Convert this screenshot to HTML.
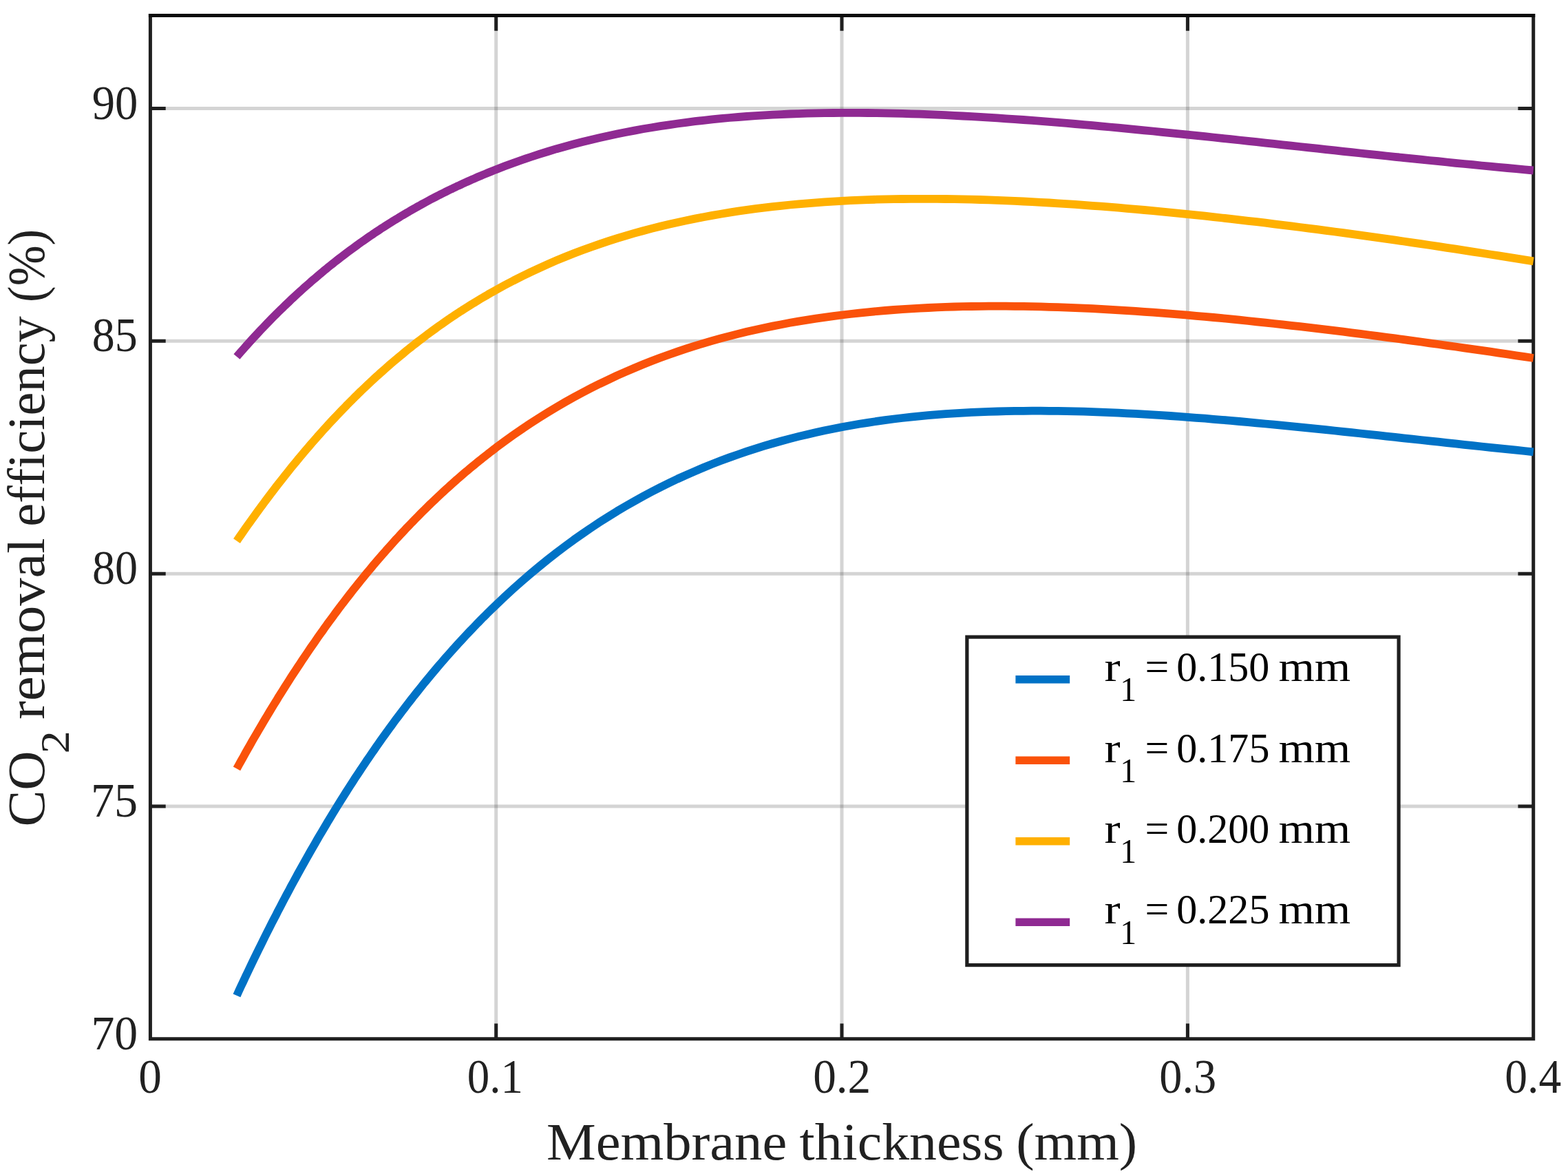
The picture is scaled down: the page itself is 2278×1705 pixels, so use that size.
<!DOCTYPE html>
<html><head><meta charset="utf-8"><title>CO2 removal efficiency vs membrane thickness</title><style>html,body{margin:0;padding:0;background:#fff;overflow:hidden}svg{display:block}</style></head><body>
<svg width="2278" height="1705" viewBox="0 0 2278 1705">
<rect width="2278" height="1705" fill="#fff"/>
<path d="M720.7 22.4V1508.8" stroke="#262626" stroke-opacity="0.2" stroke-width="5" fill="none"/>
<path d="M1223.0 22.4V1508.8" stroke="#262626" stroke-opacity="0.2" stroke-width="5" fill="none"/>
<path d="M1725.4 22.4V1508.8" stroke="#262626" stroke-opacity="0.2" stroke-width="5" fill="none"/>
<path d="M218.4 1171.0H2227.7" stroke="#262626" stroke-opacity="0.2" stroke-width="5" fill="none"/>
<path d="M218.4 833.2H2227.7" stroke="#262626" stroke-opacity="0.2" stroke-width="5" fill="none"/>
<path d="M218.4 495.3H2227.7" stroke="#262626" stroke-opacity="0.2" stroke-width="5" fill="none"/>
<path d="M218.4 157.5H2227.7" stroke="#262626" stroke-opacity="0.2" stroke-width="5" fill="none"/>
<path d="M720.7 1508.8v-22.3M720.7 22.4v22.3M1223.0 1508.8v-22.3M1223.0 22.4v22.3M1725.4 1508.8v-22.3M1725.4 22.4v22.3M218.4 1171.0h22.3M2227.7 1171.0h-22.3M218.4 833.2h22.3M2227.7 833.2h-22.3M218.4 495.3h22.3M2227.7 495.3h-22.3M218.4 157.5h22.3M2227.7 157.5h-22.3" stroke="#1f1f1f" stroke-width="5" fill="none"/>
<path d="M218.4 22.4V1508.8H2227.7V22.4" stroke="#1f1f1f" stroke-width="5" fill="none" stroke-linecap="square"/>
<path d="M215.9 22.4H2230.2" stroke="#0c0c0c" stroke-width="5" fill="none"/>
<path d="M344.0 1445.8 347.1 1438.9 350.3 1432.1 353.5 1425.4 356.6 1418.6 359.8 1412.0 363.0 1405.3 366.1 1398.7 369.3 1392.2 372.5 1385.7 375.6 1379.2 378.8 1372.8 382.0 1366.4 385.1 1360.0 388.3 1353.7 391.5 1347.4 394.6 1341.2 397.8 1335.0 401.0 1328.9 404.1 1322.7 407.3 1316.7 410.5 1310.6 413.6 1304.6 416.8 1298.6 420.0 1292.7 423.1 1286.8 426.3 1281.0 429.5 1275.2 432.6 1269.4 435.8 1263.6 439.0 1257.9 442.1 1252.3 445.3 1246.6 448.5 1241.0 451.6 1235.5 454.8 1230.0 458.0 1224.5 461.1 1219.0 464.3 1213.6 467.5 1208.2 470.6 1202.9 473.8 1197.6 476.9 1192.3 480.1 1187.1 483.3 1181.8 486.4 1176.7 489.6 1171.5 492.8 1166.4 495.9 1161.4 499.1 1156.3 502.3 1151.3 505.4 1146.4 508.6 1141.4 511.8 1136.5 514.9 1131.6 518.1 1126.8 521.3 1122.0 524.4 1117.2 527.6 1112.5 530.8 1107.8 533.9 1103.1 537.1 1098.5 540.3 1093.8 543.4 1089.3 546.6 1084.7 549.8 1080.2 552.9 1075.7 556.1 1071.2 559.3 1066.8 562.4 1062.4 565.6 1058.1 568.8 1053.7 571.9 1049.4 575.1 1045.1 578.3 1040.9 581.4 1036.7 584.6 1032.5 587.8 1028.3 590.9 1024.2 594.1 1020.1 597.3 1016.0 600.4 1012.0 603.6 1008.0 606.8 1004.0 609.9 1000.1 613.1 996.1 616.2 992.2 619.4 988.4 622.6 984.5 625.7 980.7 628.9 976.9 632.1 973.1 635.2 969.4 638.4 965.7 641.6 962.0 644.7 958.4 647.9 954.7 651.1 951.1 654.2 947.6 657.4 944.0 660.6 940.5 663.7 937.0 666.9 933.5 670.1 930.1 673.2 926.7 676.4 923.3 679.6 919.9 682.7 916.6 685.9 913.3 689.1 910.0 692.2 906.7 695.4 903.5 698.6 900.2 701.7 897.0 704.9 893.9 708.1 890.7 711.2 887.6 714.4 884.5 717.6 881.4 720.7 878.4 733.3 866.5 745.8 855.0 758.4 843.9 771.0 833.0 783.5 822.6 796.1 812.4 808.6 802.6 821.2 793.1 833.7 783.9 846.3 775.1 858.9 766.5 871.4 758.2 884.0 750.2 896.5 742.4 909.1 735.0 921.7 727.8 934.2 720.8 946.8 714.1 959.3 707.7 971.9 701.5 984.4 695.5 997.0 689.8 1009.6 684.3 1022.1 679.0 1034.7 673.9 1047.2 669.1 1059.8 664.4 1072.4 660.0 1084.9 655.7 1097.5 651.6 1110.0 647.7 1122.6 644.0 1135.1 640.5 1147.7 637.1 1160.3 633.9 1172.8 630.9 1185.4 628.0 1197.9 625.2 1210.5 622.7 1223.0 620.2 1235.6 618.0 1248.2 615.8 1260.7 613.8 1273.3 611.9 1285.8 610.2 1298.4 608.5 1311.0 607.0 1323.5 605.6 1336.1 604.3 1348.6 603.2 1361.2 602.1 1373.7 601.2 1386.3 600.3 1398.9 599.6 1411.4 598.9 1424.0 598.3 1436.5 597.8 1449.1 597.5 1461.7 597.1 1474.2 596.9 1486.8 596.8 1499.3 596.7 1511.9 596.7 1524.4 596.8 1537.0 596.9 1549.6 597.1 1562.1 597.4 1574.7 597.7 1587.2 598.1 1599.8 598.6 1612.4 599.1 1624.9 599.7 1637.5 600.3 1650.0 600.9 1662.6 601.6 1675.1 602.4 1687.7 603.2 1700.3 604.0 1712.8 604.9 1725.4 605.8 1737.9 606.8 1750.5 607.7 1763.0 608.8 1775.6 609.8 1788.2 610.9 1800.7 612.0 1813.3 613.1 1825.8 614.3 1838.4 615.5 1851.0 616.7 1863.5 617.9 1876.1 619.1 1888.6 620.4 1901.2 621.6 1913.7 622.9 1926.3 624.2 1938.9 625.5 1951.4 626.8 1964.0 628.2 1976.5 629.5 1989.1 630.9 2001.7 632.2 2014.2 633.6 2026.8 634.9 2039.3 636.3 2051.9 637.6 2064.4 639.0 2077.0 640.4 2089.6 641.7 2102.1 643.1 2114.7 644.4 2127.2 645.8 2139.8 647.1 2152.4 648.5 2164.9 649.8 2177.5 651.1 2190.0 652.4 2202.6 653.7 2215.1 655.0 2227.7 656.3" stroke="#0072c6" stroke-width="11.8" fill="none" stroke-linejoin="round"/>
<path d="M344.0 1116.4 347.1 1110.7 350.3 1105.0 353.5 1099.3 356.6 1093.6 359.8 1088.0 363.0 1082.5 366.1 1076.9 369.3 1071.4 372.5 1066.0 375.6 1060.6 378.8 1055.2 382.0 1049.8 385.1 1044.5 388.3 1039.2 391.5 1033.9 394.6 1028.7 397.8 1023.5 401.0 1018.4 404.1 1013.2 407.3 1008.1 410.5 1003.1 413.6 998.1 416.8 993.1 420.0 988.1 423.1 983.2 426.3 978.3 429.5 973.5 432.6 968.7 435.8 963.9 439.0 959.1 442.1 954.4 445.3 949.7 448.5 945.0 451.6 940.4 454.8 935.8 458.0 931.3 461.1 926.7 464.3 922.2 467.5 917.8 470.6 913.3 473.8 908.9 476.9 904.5 480.1 900.2 483.3 895.9 486.4 891.6 489.6 887.4 492.8 883.1 495.9 878.9 499.1 874.8 502.3 870.7 505.4 866.6 508.6 862.5 511.8 858.4 514.9 854.4 518.1 850.5 521.3 846.5 524.4 842.6 527.6 838.7 530.8 834.8 533.9 831.0 537.1 827.2 540.3 823.4 543.4 819.6 546.6 815.9 549.8 812.2 552.9 808.6 556.1 804.9 559.3 801.3 562.4 797.7 565.6 794.2 568.8 790.6 571.9 787.1 575.1 783.6 578.3 780.2 581.4 776.8 584.6 773.4 587.8 770.0 590.9 766.6 594.1 763.3 597.3 760.0 600.4 756.8 603.6 753.5 606.8 750.3 609.9 747.1 613.1 743.9 616.2 740.8 619.4 737.7 622.6 734.6 625.7 731.5 628.9 728.5 632.1 725.4 635.2 722.5 638.4 719.5 641.6 716.5 644.7 713.6 647.9 710.7 651.1 707.8 654.2 705.0 657.4 702.1 660.6 699.3 663.7 696.5 666.9 693.8 670.1 691.0 673.2 688.3 676.4 685.6 679.6 682.9 682.7 680.3 685.9 677.7 689.1 675.1 692.2 672.5 695.4 669.9 698.6 667.4 701.7 664.8 704.9 662.3 708.1 659.9 711.2 657.4 714.4 655.0 717.6 652.5 720.7 650.1 733.3 640.8 745.8 631.8 758.4 623.1 771.0 614.7 783.5 606.6 796.1 598.8 808.6 591.2 821.2 583.9 833.7 576.9 846.3 570.1 858.9 563.6 871.4 557.3 884.0 551.3 896.5 545.4 909.1 539.8 921.7 534.5 934.2 529.3 946.8 524.3 959.3 519.6 971.9 515.0 984.4 510.6 997.0 506.4 1009.6 502.4 1022.1 498.6 1034.7 494.9 1047.2 491.4 1059.8 488.1 1072.4 484.9 1084.9 481.8 1097.5 479.0 1110.0 476.2 1122.6 473.6 1135.1 471.2 1147.7 468.8 1160.3 466.6 1172.8 464.6 1185.4 462.6 1197.9 460.8 1210.5 459.1 1223.0 457.5 1235.6 456.0 1248.2 454.6 1260.7 453.3 1273.3 452.1 1285.8 451.0 1298.4 450.0 1311.0 449.1 1323.5 448.3 1336.1 447.6 1348.6 447.0 1361.2 446.4 1373.7 445.9 1386.3 445.5 1398.9 445.2 1411.4 445.0 1424.0 444.8 1436.5 444.7 1449.1 444.7 1461.7 444.7 1474.2 444.8 1486.8 444.9 1499.3 445.2 1511.9 445.4 1524.4 445.8 1537.0 446.2 1549.6 446.6 1562.1 447.1 1574.7 447.6 1587.2 448.2 1599.8 448.9 1612.4 449.6 1624.9 450.3 1637.5 451.1 1650.0 451.9 1662.6 452.8 1675.1 453.7 1687.7 454.6 1700.3 455.6 1712.8 456.6 1725.4 457.7 1737.9 458.8 1750.5 459.9 1763.0 461.0 1775.6 462.2 1788.2 463.4 1800.7 464.7 1813.3 466.0 1825.8 467.3 1838.4 468.6 1851.0 470.0 1863.5 471.4 1876.1 472.8 1888.6 474.2 1901.2 475.7 1913.7 477.2 1926.3 478.7 1938.9 480.2 1951.4 481.7 1964.0 483.3 1976.5 484.9 1989.1 486.5 2001.7 488.1 2014.2 489.8 2026.8 491.4 2039.3 493.1 2051.9 494.8 2064.4 496.5 2077.0 498.3 2089.6 500.0 2102.1 501.8 2114.7 503.5 2127.2 505.3 2139.8 507.1 2152.4 508.9 2164.9 510.7 2177.5 512.6 2190.0 514.4 2202.6 516.3 2215.1 518.2 2227.7 520.0" stroke="#fa520a" stroke-width="11.8" fill="none" stroke-linejoin="round"/>
<path d="M344.0 785.6 347.1 781.0 350.3 776.5 353.5 771.9 356.6 767.4 359.8 762.9 363.0 758.5 366.1 754.1 369.3 749.7 372.5 745.3 375.6 741.0 378.8 736.6 382.0 732.4 385.1 728.1 388.3 723.9 391.5 719.7 394.6 715.5 397.8 711.4 401.0 707.2 404.1 703.2 407.3 699.1 410.5 695.1 413.6 691.1 416.8 687.1 420.0 683.1 423.1 679.2 426.3 675.3 429.5 671.5 432.6 667.6 435.8 663.8 439.0 660.0 442.1 656.3 445.3 652.5 448.5 648.8 451.6 645.2 454.8 641.5 458.0 637.9 461.1 634.3 464.3 630.8 467.5 627.2 470.6 623.7 473.8 620.2 476.9 616.8 480.1 613.3 483.3 609.9 486.4 606.6 489.6 603.2 492.8 599.9 495.9 596.6 499.1 593.3 502.3 590.1 505.4 586.8 508.6 583.6 511.8 580.5 514.9 577.3 518.1 574.2 521.3 571.1 524.4 568.0 527.6 565.0 530.8 562.0 533.9 559.0 537.1 556.0 540.3 553.0 543.4 550.1 546.6 547.2 549.8 544.3 552.9 541.5 556.1 538.7 559.3 535.9 562.4 533.1 565.6 530.3 568.8 527.6 571.9 524.9 575.1 522.2 578.3 519.5 581.4 516.9 584.6 514.3 587.8 511.7 590.9 509.1 594.1 506.5 597.3 504.0 600.4 501.5 603.6 499.0 606.8 496.5 609.9 494.1 613.1 491.7 616.2 489.3 619.4 486.9 622.6 484.5 625.7 482.2 628.9 479.9 632.1 477.6 635.2 475.3 638.4 473.0 641.6 470.8 644.7 468.6 647.9 466.4 651.1 464.2 654.2 462.0 657.4 459.9 660.6 457.8 663.7 455.7 666.9 453.6 670.1 451.6 673.2 449.5 676.4 447.5 679.6 445.5 682.7 443.5 685.9 441.5 689.1 439.6 692.2 437.7 695.4 435.7 698.6 433.8 701.7 432.0 704.9 430.1 708.1 428.3 711.2 426.4 714.4 424.6 717.6 422.8 720.7 421.1 733.3 414.2 745.8 407.6 758.4 401.3 771.0 395.1 783.5 389.3 796.1 383.6 808.6 378.2 821.2 373.0 833.7 368.1 846.3 363.3 858.9 358.7 871.4 354.4 884.0 350.2 896.5 346.2 909.1 342.3 921.7 338.7 934.2 335.2 946.8 331.9 959.3 328.7 971.9 325.7 984.4 322.9 997.0 320.2 1009.6 317.6 1022.1 315.2 1034.7 312.9 1047.2 310.7 1059.8 308.6 1072.4 306.7 1084.9 304.9 1097.5 303.2 1110.0 301.6 1122.6 300.1 1135.1 298.8 1147.7 297.5 1160.3 296.3 1172.8 295.3 1185.4 294.3 1197.9 293.4 1210.5 292.6 1223.0 291.8 1235.6 291.2 1248.2 290.6 1260.7 290.2 1273.3 289.7 1285.8 289.4 1298.4 289.2 1311.0 289.0 1323.5 288.8 1336.1 288.8 1348.6 288.8 1361.2 288.8 1373.7 289.0 1386.3 289.1 1398.9 289.4 1411.4 289.7 1424.0 290.0 1436.5 290.4 1449.1 290.9 1461.7 291.4 1474.2 291.9 1486.8 292.5 1499.3 293.1 1511.9 293.8 1524.4 294.5 1537.0 295.3 1549.6 296.1 1562.1 296.9 1574.7 297.8 1587.2 298.8 1599.8 299.7 1612.4 300.7 1624.9 301.7 1637.5 302.8 1650.0 303.9 1662.6 305.0 1675.1 306.2 1687.7 307.4 1700.3 308.6 1712.8 309.8 1725.4 311.1 1737.9 312.4 1750.5 313.7 1763.0 315.1 1775.6 316.5 1788.2 317.9 1800.7 319.3 1813.3 320.8 1825.8 322.2 1838.4 323.7 1851.0 325.3 1863.5 326.8 1876.1 328.4 1888.6 330.0 1901.2 331.6 1913.7 333.2 1926.3 334.9 1938.9 336.5 1951.4 338.2 1964.0 339.9 1976.5 341.6 1989.1 343.4 2001.7 345.1 2014.2 346.9 2026.8 348.7 2039.3 350.5 2051.9 352.3 2064.4 354.2 2077.0 356.0 2089.6 357.9 2102.1 359.8 2114.7 361.7 2127.2 363.6 2139.8 365.6 2152.4 367.5 2164.9 369.5 2177.5 371.4 2190.0 373.4 2202.6 375.4 2215.1 377.4 2227.7 379.4" stroke="#ffb000" stroke-width="11.8" fill="none" stroke-linejoin="round"/>
<path d="M344.0 518.0 347.1 514.3 350.3 510.7 353.5 507.1 356.6 503.5 359.8 500.0 363.0 496.4 366.1 493.0 369.3 489.5 372.5 486.1 375.6 482.7 378.8 479.3 382.0 476.0 385.1 472.7 388.3 469.4 391.5 466.1 394.6 462.9 397.8 459.7 401.0 456.5 404.1 453.4 407.3 450.3 410.5 447.2 413.6 444.1 416.8 441.1 420.0 438.1 423.1 435.1 426.3 432.1 429.5 429.2 432.6 426.3 435.8 423.4 439.0 420.5 442.1 417.7 445.3 414.9 448.5 412.1 451.6 409.3 454.8 406.6 458.0 403.9 461.1 401.2 464.3 398.5 467.5 395.9 470.6 393.2 473.8 390.7 476.9 388.1 480.1 385.5 483.3 383.0 486.4 380.5 489.6 378.0 492.8 375.5 495.9 373.1 499.1 370.7 502.3 368.3 505.4 365.9 508.6 363.5 511.8 361.2 514.9 358.9 518.1 356.6 521.3 354.3 524.4 352.0 527.6 349.8 530.8 347.6 533.9 345.4 537.1 343.2 540.3 341.1 543.4 338.9 546.6 336.8 549.8 334.7 552.9 332.6 556.1 330.6 559.3 328.5 562.4 326.5 565.6 324.5 568.8 322.5 571.9 320.5 575.1 318.6 578.3 316.7 581.4 314.7 584.6 312.8 587.8 311.0 590.9 309.1 594.1 307.3 597.3 305.4 600.4 303.6 603.6 301.8 606.8 300.0 609.9 298.3 613.1 296.5 616.2 294.8 619.4 293.1 622.6 291.4 625.7 289.7 628.9 288.0 632.1 286.4 635.2 284.8 638.4 283.1 641.6 281.5 644.7 280.0 647.9 278.4 651.1 276.8 654.2 275.3 657.4 273.8 660.6 272.2 663.7 270.7 666.9 269.3 670.1 267.8 673.2 266.3 676.4 264.9 679.6 263.5 682.7 262.1 685.9 260.7 689.1 259.3 692.2 257.9 695.4 256.5 698.6 255.2 701.7 253.9 704.9 252.6 708.1 251.3 711.2 250.0 714.4 248.7 717.6 247.4 720.7 246.2 733.3 241.3 745.8 236.7 758.4 232.2 771.0 228.0 783.5 223.9 796.1 220.0 808.6 216.2 821.2 212.7 833.7 209.3 846.3 206.0 858.9 202.9 871.4 200.0 884.0 197.2 896.5 194.5 909.1 192.0 921.7 189.6 934.2 187.3 946.8 185.2 959.3 183.1 971.9 181.3 984.4 179.5 997.0 177.8 1009.6 176.2 1022.1 174.8 1034.7 173.4 1047.2 172.2 1059.8 171.0 1072.4 170.0 1084.9 169.0 1097.5 168.2 1110.0 167.4 1122.6 166.7 1135.1 166.1 1147.7 165.5 1160.3 165.1 1172.8 164.7 1185.4 164.4 1197.9 164.1 1210.5 164.0 1223.0 163.9 1235.6 163.8 1248.2 163.9 1260.7 164.0 1273.3 164.1 1285.8 164.3 1298.4 164.6 1311.0 164.9 1323.5 165.3 1336.1 165.7 1348.6 166.1 1361.2 166.6 1373.7 167.2 1386.3 167.8 1398.9 168.5 1411.4 169.1 1424.0 169.9 1436.5 170.6 1449.1 171.4 1461.7 172.3 1474.2 173.1 1486.8 174.0 1499.3 174.9 1511.9 175.9 1524.4 176.9 1537.0 177.9 1549.6 178.9 1562.1 180.0 1574.7 181.1 1587.2 182.2 1599.8 183.3 1612.4 184.5 1624.9 185.7 1637.5 186.9 1650.0 188.1 1662.6 189.3 1675.1 190.5 1687.7 191.8 1700.3 193.1 1712.8 194.3 1725.4 195.6 1737.9 196.9 1750.5 198.2 1763.0 199.5 1775.6 200.9 1788.2 202.2 1800.7 203.5 1813.3 204.9 1825.8 206.2 1838.4 207.6 1851.0 208.9 1863.5 210.3 1876.1 211.6 1888.6 213.0 1901.2 214.4 1913.7 215.7 1926.3 217.1 1938.9 218.4 1951.4 219.8 1964.0 221.1 1976.5 222.5 1989.1 223.8 2001.7 225.1 2014.2 226.5 2026.8 227.8 2039.3 229.1 2051.9 230.4 2064.4 231.7 2077.0 233.0 2089.6 234.2 2102.1 235.5 2114.7 236.8 2127.2 238.0 2139.8 239.2 2152.4 240.5 2164.9 241.7 2177.5 242.9 2190.0 244.0 2202.6 245.2 2215.1 246.4 2227.7 247.5" stroke="#8f2a92" stroke-width="11.8" fill="none" stroke-linejoin="round"/>
<text x="133.75" y="172.53" font-size="68.8" textLength="66.58" lengthAdjust="spacingAndGlyphs" fill="#212121" style="font-family:'Liberation Serif',serif;font-kerning:none">90</text>
<text x="133.79" y="510.35" font-size="68.8" textLength="65.99" lengthAdjust="spacingAndGlyphs" fill="#212121" style="font-family:'Liberation Serif',serif;font-kerning:none">85</text>
<text x="133.88" y="848.16" font-size="68.8" textLength="66.14" lengthAdjust="spacingAndGlyphs" fill="#212121" style="font-family:'Liberation Serif',serif;font-kerning:none">80</text>
<text x="132.01" y="1185.98" font-size="68.8" textLength="68.15" lengthAdjust="spacingAndGlyphs" fill="#212121" style="font-family:'Liberation Serif',serif;font-kerning:none">75</text>
<text x="132.43" y="1523.80" font-size="68.8" textLength="67.75" lengthAdjust="spacingAndGlyphs" fill="#212121" style="font-family:'Liberation Serif',serif;font-kerning:none">70</text>
<text x="201.34" y="1587.20" font-size="68.8" textLength="33.62" lengthAdjust="spacingAndGlyphs" fill="#212121" style="font-family:'Liberation Serif',serif;font-kerning:none">0</text>
<text x="678.73" y="1587.20" font-size="68.8" textLength="81.17" lengthAdjust="spacingAndGlyphs" fill="#212121" style="font-family:'Liberation Serif',serif;font-kerning:none">0.1</text>
<text x="1181.14" y="1587.20" font-size="68.8" textLength="84.07" lengthAdjust="spacingAndGlyphs" fill="#212121" style="font-family:'Liberation Serif',serif;font-kerning:none">0.2</text>
<text x="1684.37" y="1587.20" font-size="68.8" textLength="82.92" lengthAdjust="spacingAndGlyphs" fill="#212121" style="font-family:'Liberation Serif',serif;font-kerning:none">0.3</text>
<text x="2186.30" y="1587.20" font-size="68.8" textLength="81.92" lengthAdjust="spacingAndGlyphs" fill="#212121" style="font-family:'Liberation Serif',serif;font-kerning:none">0.4</text>
<text x="793.98" y="1684.10" font-size="76.7" textLength="349.22" lengthAdjust="spacingAndGlyphs" fill="#212121" style="font-family:'Liberation Serif',serif;font-kerning:none">Membrane</text>
<text x="1161.52" y="1684.10" font-size="76.7" textLength="296.96" lengthAdjust="spacingAndGlyphs" fill="#212121" style="font-family:'Liberation Serif',serif;font-kerning:none">thickness</text>
<text x="1476.22" y="1684.10" font-size="76.7" textLength="175.86" lengthAdjust="spacingAndGlyphs" fill="#212121" style="font-family:'Liberation Serif',serif;font-kerning:none">(mm)</text>
<text transform="rotate(-90)" x="-1200.55" y="64.20" font-size="76.7" textLength="110.10" lengthAdjust="spacingAndGlyphs" fill="#212121" style="font-family:'Liberation Serif',serif;font-kerning:none">CO</text>
<text transform="rotate(-90)" x="-1094.62" y="99.70" font-size="59.2" textLength="33.18" lengthAdjust="spacingAndGlyphs" fill="#212121" style="font-family:'Liberation Serif',serif;font-kerning:none">2</text>
<text transform="rotate(-90)" x="-1044.81" y="64.20" font-size="76.7" textLength="263.32" lengthAdjust="spacingAndGlyphs" fill="#212121" style="font-family:'Liberation Serif',serif;font-kerning:none">removal</text>
<text transform="rotate(-90)" x="-764.79" y="64.20" font-size="76.7" textLength="305.59" lengthAdjust="spacingAndGlyphs" fill="#212121" style="font-family:'Liberation Serif',serif;font-kerning:none">efficiency</text>
<text transform="rotate(-90)" x="-438.91" y="64.20" font-size="76.7" textLength="106.02" lengthAdjust="spacingAndGlyphs" fill="#212121" style="font-family:'Liberation Serif',serif;font-kerning:none">(%)</text>
<rect x="1404.85" y="925.1" width="627.2" height="476.5" fill="#fff" stroke="#1f1f1f" stroke-width="5.2"/>
<path d="M1475.4 986.8H1554.2" stroke="#0072c6" stroke-width="11.6"/>
<text x="1604.51" y="989.10" font-size="61.5" textLength="23.10" lengthAdjust="spacingAndGlyphs" fill="#000" style="font-family:'Liberation Serif',serif;font-kerning:none">r</text>
<text x="1627.21" y="1018.20" font-size="50.7" textLength="23.86" lengthAdjust="spacingAndGlyphs" fill="#000" style="font-family:'Liberation Serif',serif;font-kerning:none">1</text>
<text x="1663.63" y="989.10" font-size="61.5" textLength="34.78" lengthAdjust="spacingAndGlyphs" fill="#000" style="font-family:'Liberation Serif',serif;font-kerning:none">=</text>
<text x="1709.31" y="989.10" font-size="61.5" textLength="135.07" lengthAdjust="spacingAndGlyphs" fill="#000" style="font-family:'Liberation Serif',serif;font-kerning:none">0.150</text>
<text x="1857.49" y="989.10" font-size="61.5" textLength="104.66" lengthAdjust="spacingAndGlyphs" fill="#000" style="font-family:'Liberation Serif',serif;font-kerning:none">mm</text>
<path d="M1475.4 1104.2H1554.2" stroke="#fa520a" stroke-width="11.6"/>
<text x="1604.51" y="1106.55" font-size="61.5" textLength="23.10" lengthAdjust="spacingAndGlyphs" fill="#000" style="font-family:'Liberation Serif',serif;font-kerning:none">r</text>
<text x="1627.21" y="1135.65" font-size="50.7" textLength="23.86" lengthAdjust="spacingAndGlyphs" fill="#000" style="font-family:'Liberation Serif',serif;font-kerning:none">1</text>
<text x="1663.63" y="1106.55" font-size="61.5" textLength="34.78" lengthAdjust="spacingAndGlyphs" fill="#000" style="font-family:'Liberation Serif',serif;font-kerning:none">=</text>
<text x="1709.31" y="1106.55" font-size="61.5" textLength="135.13" lengthAdjust="spacingAndGlyphs" fill="#000" style="font-family:'Liberation Serif',serif;font-kerning:none">0.175</text>
<text x="1857.49" y="1106.55" font-size="61.5" textLength="104.66" lengthAdjust="spacingAndGlyphs" fill="#000" style="font-family:'Liberation Serif',serif;font-kerning:none">mm</text>
<path d="M1475.4 1221.7H1554.2" stroke="#ffb000" stroke-width="11.6"/>
<text x="1604.51" y="1224.00" font-size="61.5" textLength="23.10" lengthAdjust="spacingAndGlyphs" fill="#000" style="font-family:'Liberation Serif',serif;font-kerning:none">r</text>
<text x="1627.21" y="1253.10" font-size="50.7" textLength="23.86" lengthAdjust="spacingAndGlyphs" fill="#000" style="font-family:'Liberation Serif',serif;font-kerning:none">1</text>
<text x="1663.63" y="1224.00" font-size="61.5" textLength="34.78" lengthAdjust="spacingAndGlyphs" fill="#000" style="font-family:'Liberation Serif',serif;font-kerning:none">=</text>
<text x="1709.31" y="1224.00" font-size="61.5" textLength="135.07" lengthAdjust="spacingAndGlyphs" fill="#000" style="font-family:'Liberation Serif',serif;font-kerning:none">0.200</text>
<text x="1857.49" y="1224.00" font-size="61.5" textLength="104.66" lengthAdjust="spacingAndGlyphs" fill="#000" style="font-family:'Liberation Serif',serif;font-kerning:none">mm</text>
<path d="M1475.4 1339.2H1554.2" stroke="#8f2a92" stroke-width="11.6"/>
<text x="1604.51" y="1341.45" font-size="61.5" textLength="23.10" lengthAdjust="spacingAndGlyphs" fill="#000" style="font-family:'Liberation Serif',serif;font-kerning:none">r</text>
<text x="1627.21" y="1370.55" font-size="50.7" textLength="23.86" lengthAdjust="spacingAndGlyphs" fill="#000" style="font-family:'Liberation Serif',serif;font-kerning:none">1</text>
<text x="1663.63" y="1341.45" font-size="61.5" textLength="34.78" lengthAdjust="spacingAndGlyphs" fill="#000" style="font-family:'Liberation Serif',serif;font-kerning:none">=</text>
<text x="1709.31" y="1341.45" font-size="61.5" textLength="135.13" lengthAdjust="spacingAndGlyphs" fill="#000" style="font-family:'Liberation Serif',serif;font-kerning:none">0.225</text>
<text x="1857.49" y="1341.45" font-size="61.5" textLength="104.66" lengthAdjust="spacingAndGlyphs" fill="#000" style="font-family:'Liberation Serif',serif;font-kerning:none">mm</text>
</svg>
</body></html>
